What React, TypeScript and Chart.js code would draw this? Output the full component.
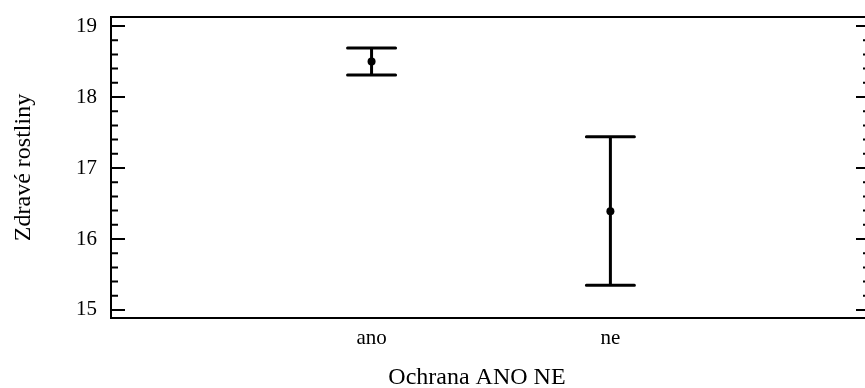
import React, { useEffect, useRef } from "react";
import { Chart, registerables } from "chart.js";

Chart.register(...registerables);

const categories = ["ano", "ne"];
const categoryPositions = [1, 2];
const means = [18.5, 16.39];
const lowers = [18.31, 15.35];
const uppers = [18.69, 17.44];
const yTickValues = [15, 16, 17, 18, 19];
const yMinorStep = 0.2;
const xTitle = "Ochrana ANO NE";
const yTitle = "Zdravé rostliny";

const FONT = "'Liberation Serif', 'Times New Roman', serif";

const framePlugin = {
  id: "frame",
  beforeDatasetsDraw(chart: any) {
    const { ctx, chartArea } = chart;
    const y = chart.scales.y;
    const x = chart.scales.x;
    ctx.save();
    ctx.strokeStyle = "#000";
    ctx.lineWidth = 2;
    ctx.strokeRect(chartArea.left, chartArea.top, chartArea.right - chartArea.left, chartArea.bottom - chartArea.top);
    const start = Math.ceil(y.min / yMinorStep);
    const end = Math.floor(y.max / yMinorStep);
    for (let i = start; i <= end; i++) {
      const v = i * yMinorStep;
      const major = Math.abs(v - Math.round(v)) < 1e-6;
      const len = major ? 14 : 7;
      const py = y.getPixelForValue(v);
      ctx.beginPath();
      ctx.moveTo(chartArea.left, py);
      ctx.lineTo(chartArea.left + len, py);
      ctx.moveTo(chartArea.right, py);
      ctx.lineTo(chartArea.right - len, py);
      ctx.stroke();
    }
    ctx.lineWidth = 3;
    ctx.lineCap = "round";
    categoryPositions.forEach((c, i) => {
      const px = x.getPixelForValue(c);
      const pLo = y.getPixelForValue(lowers[i]);
      const pHi = y.getPixelForValue(uppers[i]);
      ctx.beginPath();
      ctx.moveTo(px, pLo);
      ctx.lineTo(px, pHi);
      ctx.moveTo(px - 24, pLo);
      ctx.lineTo(px + 24, pLo);
      ctx.moveTo(px - 24, pHi);
      ctx.lineTo(px + 24, pHi);
      ctx.stroke();
    });
    ctx.restore();
  },
  afterDraw(chart: any) {
    const { ctx } = chart;
    const x = chart.scales.x;
    const cx = (x.getPixelForValue(categoryPositions[0]) + x.getPixelForValue(categoryPositions[1])) / 2 - 14;
    ctx.save();
    ctx.fillStyle = "#000";
    ctx.font = `24px ${FONT}`;
    ctx.textAlign = "center";
    ctx.textBaseline = "middle";
    ctx.fillText(xTitle, cx, 378);
    ctx.restore();
  },
};

export default function App() {
  const ref = useRef<HTMLCanvasElement | null>(null);
  useEffect(() => {
    if (!ref.current) return;
    Chart.defaults.color = "#000";
    const chart = new Chart(ref.current, {
      type: "scatter",
      data: {
        datasets: [
          {
            data: categoryPositions.map((c, i) => ({ x: c, y: means[i] })),
            pointRadius: 4,
            pointBackgroundColor: "#000",
            pointBorderWidth: 0,
            borderColor: "#000",
          },
        ],
      },
      options: {
        animation: false,
        responsive: false,
        devicePixelRatio: 1,
        layout: { padding: { top: 17, right: 10, left: 0, bottom: 0 } },
        plugins: { legend: { display: false }, tooltip: { enabled: false } },
        scales: {
          x: {
            type: "linear",
            min: -0.091,
            max: 3.087,
            grid: { display: false, drawTicks: false },
            border: { display: false },
            afterBuildTicks: (s: any) => {
              s.ticks = categoryPositions.map((v) => ({ value: v }));
            },
            afterFit: (s: any) => {
              s.height = 82;
              s.paddingLeft = 0;
              s.paddingRight = 0;
            },
            ticks: {
              padding: 8,
              maxRotation: 0,
              autoSkip: false,
              font: { family: FONT, size: 21 },
              color: "#000",
              callback: (v: any) => {
                const idx = categoryPositions.indexOf(Number(v));
                return idx >= 0 ? categories[idx] : "";
              },
            },
            title: { display: false },
          },
          y: {
            type: "linear",
            min: 14.887,
            max: 19.127,
            grid: { display: false, drawTicks: false },
            border: { display: false },
            afterBuildTicks: (s: any) => {
              s.ticks = yTickValues.map((v) => ({ value: v }));
            },
            afterFit: (s: any) => {
              s.width = 111;
              s.paddingTop = 0;
              s.paddingBottom = 0;
            },
            ticks: {
              padding: 14,
              font: { family: FONT, size: 21 },
              color: "#000",
            },
            title: {
              display: true,
              text: yTitle,
              font: { family: FONT, size: 24 },
              color: "#000",
              padding: { top: 9, bottom: 0 },
            },
          },
        },
      },
      plugins: [framePlugin],
    });
    return () => chart.destroy();
  }, []);
  return (
    <div
      style={{
        position: "fixed",
        left: 0,
        top: 0,
        width: 865,
        height: 388,
        overflow: "hidden",
        background: "#fff",
      }}
    >
      <canvas ref={ref} width={880} height={400} style={{ display: "block" }} />
    </div>
  );
}
